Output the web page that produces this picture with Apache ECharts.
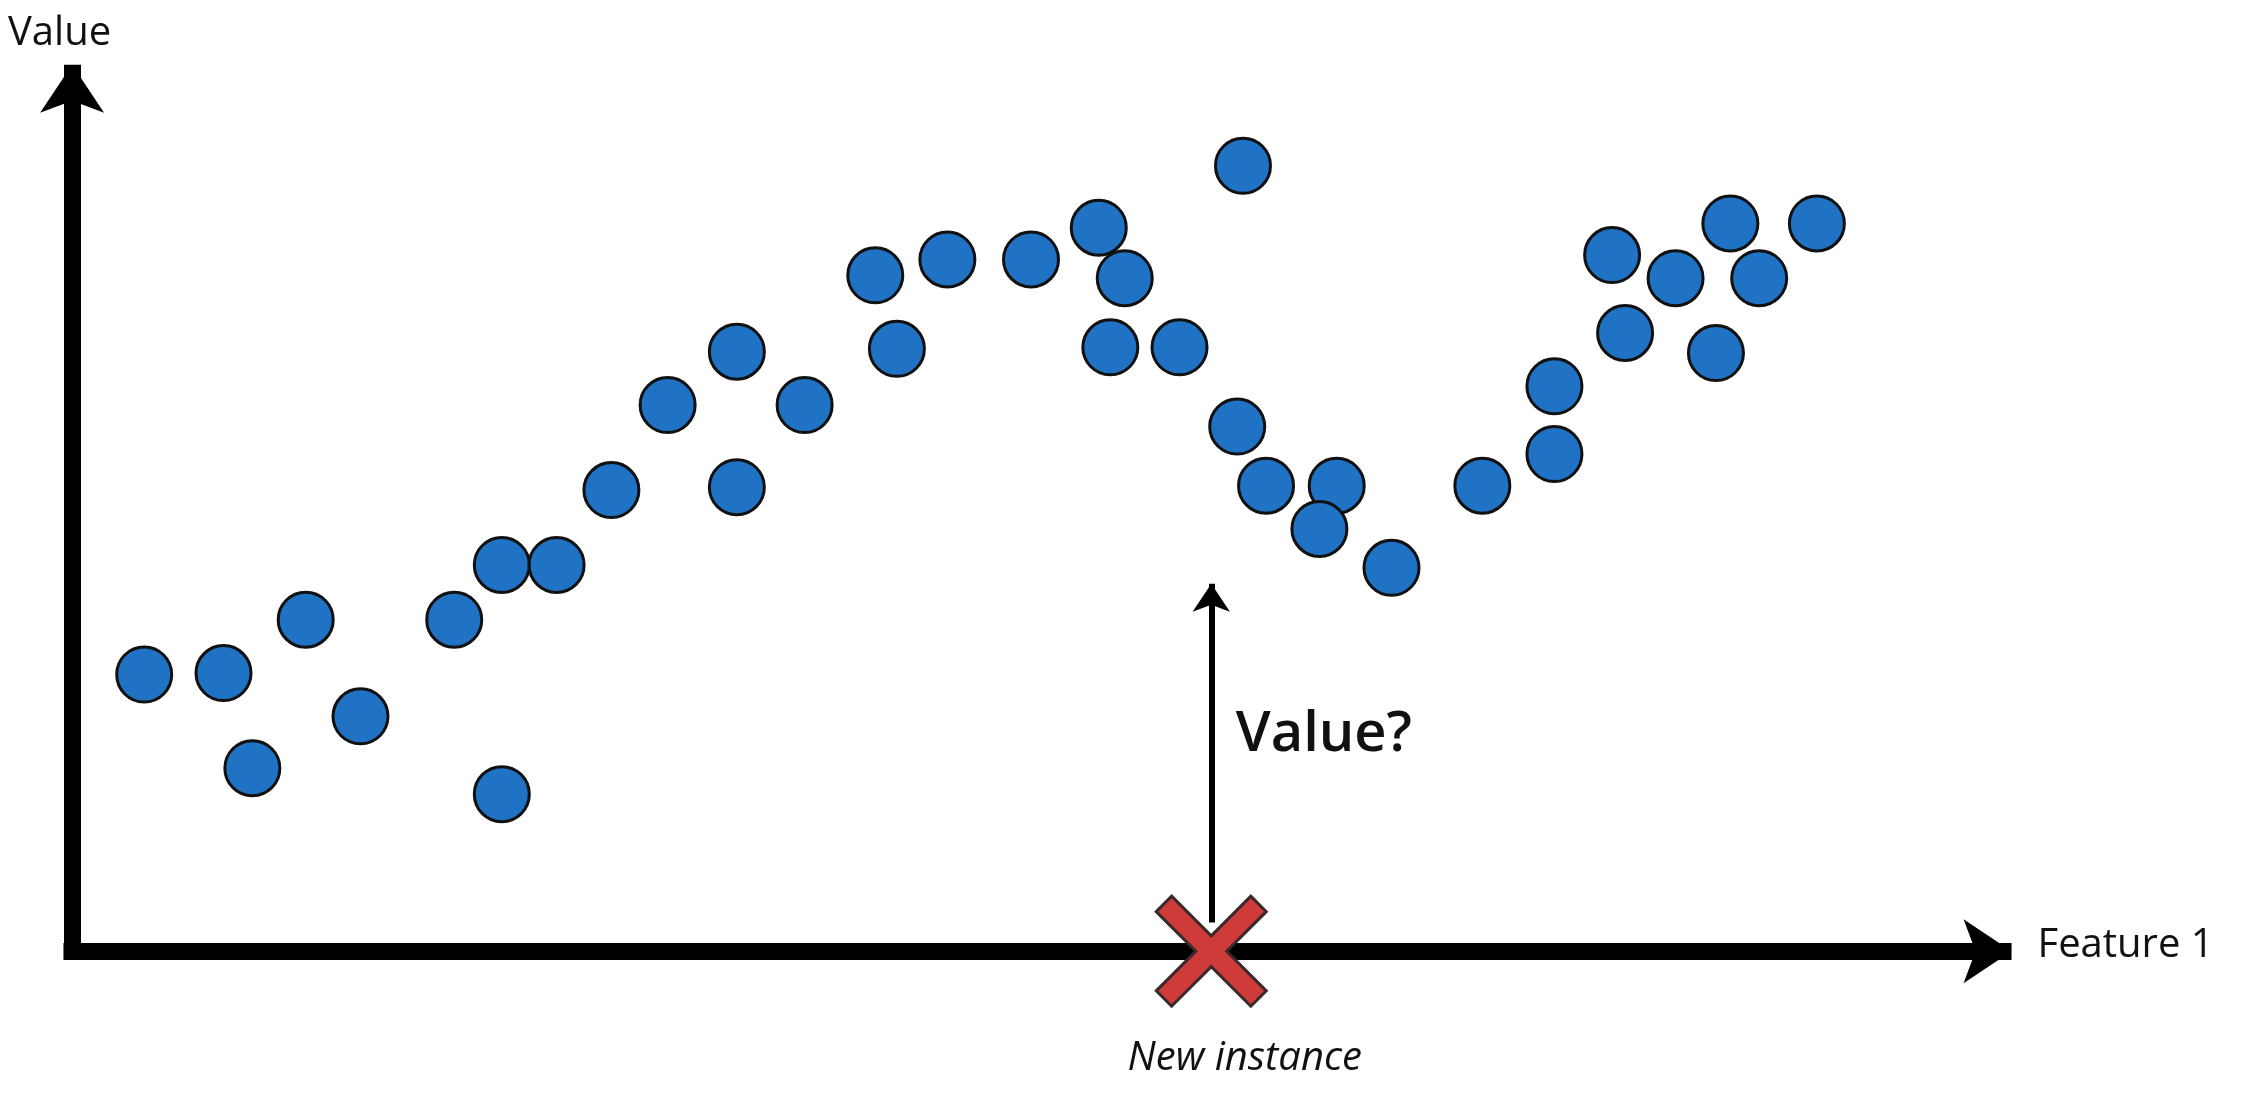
<!DOCTYPE html>
<html>
<head>
<meta charset="utf-8">
<script src="https://cdn.jsdelivr.net/npm/echarts@6/dist/echarts.min.js"></script>
<style>
  html, body { margin: 0; padding: 0; background: #fff; }
  #chart { width: 2261px; height: 1104px; }
</style>
</head>
<body>
<div id="chart"></div>
<script>
// data in reference-image units (x to the right, y downward from top)
var pointsX = [100, 155, 175, 212, 250, 315, 348, 348, 386, 424, 463, 511, 511, 558, 607, 622, 657, 715, 762, 780, 770, 818, 862, 858, 878, 927, 915, 965, 1028, 1078, 1078, 1118, 1127, 1162, 1190, 1200, 1220, 1260];
var pointsY = [468, 467, 533, 430, 497, 430, 392, 551, 392, 340, 281, 338, 244, 281, 191, 242, 180, 180, 158, 193, 241, 241, 115, 296, 337, 337, 367, 394, 337, 315, 268, 177, 231, 193, 245, 155, 193, 155];
var origin = [50, 660];
var xAxisEnd = [1395, 660];
var yAxisEnd = [50, 45];
var newInstance = [840, 660];
var queryArrow = [[840, 640], [840, 405]];

var k = 2261 / 1568;
var chart = echarts.init(document.getElementById("chart"));

var pts = pointsX.map(function (x, i) { return [x, pointsY[i]]; });

var option = {
  animation: false,
  grid: { left: 0, right: 0, top: 0, bottom: 0 },
  xAxis: { type: "value", min: 0, max: 1568, show: false },
  yAxis: { type: "value", min: 0, max: 766, inverse: true, show: false },
  series: [
    {
      type: "lines",
      coordinateSystem: "cartesian2d",
      symbol: ["none", "arrow"],
      symbolSize: 48,
      lineStyle: { color: "#000", width: 17, opacity: 1 },
      data: [
        { coords: [[origin[0] - 6, origin[1]], xAxisEnd] },
        { coords: [[origin[0], origin[1] + 6], yAxisEnd] }
      ],
      z: 1
    },
    {
      type: "lines",
      coordinateSystem: "cartesian2d",
      symbol: ["none", "arrow"],
      symbolSize: 28,
      lineStyle: { color: "#000", width: 6, opacity: 1 },
      data: [{ coords: queryArrow }],
      z: 1
    },
    {
      type: "scatter",
      data: pts,
      symbol: "circle",
      symbolSize: 55,
      itemStyle: { color: "#1f72c4", borderColor: "#111", borderWidth: 3, opacity: 1 },
      z: 3
    },
    {
      type: "scatter",
      data: [newInstance],
      symbol: "path://M0,14 L14,0 L50,36 L86,0 L100,14 L64,50 L100,86 L86,100 L50,64 L14,100 L0,86 L36,50 Z",
      symbolSize: 110,
      itemStyle: { color: "#cf3a3a", borderColor: "#3a2a2a", borderWidth: 3, opacity: 1 },
      z: 4
    }
  ],
  graphic: [
    { type: "text", left: 8, top: 14,
      style: { text: "Value", font: "40px 'Open Sans', 'DejaVu Sans', sans-serif", fill: "#111" } },
    { type: "text", left: 1413 * k, top: 660 * k - 26,
      style: { text: "Feature 1", font: "40px 'Open Sans', 'DejaVu Sans', sans-serif", fill: "#111" } },
    { type: "text", left: 782 * k, top: 720 * k,
      style: { text: "New instance", font: "italic 40px 'Open Sans', 'DejaVu Sans', sans-serif", fill: "#111" } },
    { type: "text", left: 857 * k, top: 490 * k,
      style: { text: "Value?", font: "600 56px 'Open Sans', 'DejaVu Sans', sans-serif", fill: "#111" } }
  ]
};
chart.setOption(option);
</script>
</body>
</html>
